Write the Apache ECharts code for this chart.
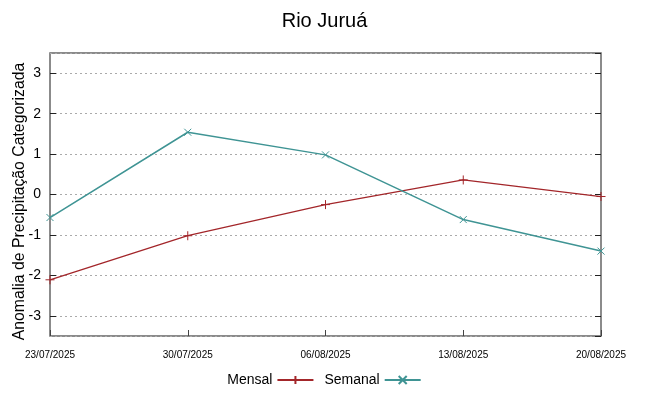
<!DOCTYPE html>
<html><head><meta charset="utf-8">
<script src="https://cdn.jsdelivr.net/npm/echarts@6/dist/echarts.min.js"></script>
<style>html,body{margin:0;padding:0;background:#fff}#c{width:649px;height:396px}</style>
</head><body><div id="c"></div>
<script>
const categories = ['23/07/2025','30/07/2025','06/08/2025','13/08/2025','20/08/2025'];
const mensal = [-2.11, -1.02, -0.25, 0.36, -0.05];
const semanal = [-0.57, 1.54, 0.98, -0.62, -1.40];
const yTicks = [-3, -2, -1, 0, 1, 2, 3];

const FONT = 'Liberation Sans';
const plus = 'path://M0,5L10,5M5,0L5,10';
const cross = 'path://M0,0L10,10M10,0L0,10';
const chart = echarts.init(document.getElementById('c'), null, {renderer: 'canvas'});
const yFmt = v => (yTicks.indexOf(Math.round(v*1000)/1000) >= 0 ? String(v) : '');
chart.setOption({
  animation: false,
  title: {text: 'Rio Juruá', left: 'center', top: 6,
    textStyle: {fontFamily: FONT, fontSize: 20, fontWeight: 'normal', color: '#000'}},
  grid: {left: 50, right: 48, top: 53, bottom: 60, show: true, borderColor: '#666', borderWidth: 1.5,
    backgroundColor: 'transparent', containLabel: false, outerBoundsMode: 'none'},
  legend: {bottom: 4, left: 'center', align: 'right', itemWidth: 36, itemHeight: 10, itemGap: 10,
    textStyle: {fontFamily: FONT, fontSize: 14, color: '#000'},
    data: ['Mensal', 'Semanal']},
  xAxis: {type: 'category', data: categories, boundaryGap: false,
    axisLine: {show: false, onZero: false},
    axisTick: {show: true, inside: true, length: 6, lineStyle: {color: '#444'}},
    axisLabel: {fontFamily: FONT, fontSize: 10, color: '#000', margin: 14},
    splitLine: {show: false}},
  yAxis: [{type: 'value', min: -3.5, max: 3.5, splitNumber: 7,
    name: 'Anomalia de Precipitação Categorizada', nameLocation: 'middle', nameGap: 22, nameMoveOverlap: false,
    nameTextStyle: {fontFamily: FONT, fontSize: 15.8, color: '#000', padding: [0, 14, 0, 0]},
    axisLine: {show: false},
    axisTick: {show: true, inside: true, length: 6, lineStyle: {color: '#222'}},
    axisLabel: {fontFamily: FONT, fontSize: 14, color: '#000', margin: 9, formatter: yFmt, showMinLabel: false, showMaxLabel: false},
    splitLine: {show: true, lineStyle: {color: '#aaa', type: [2, 3], width: 1}}},
   {type: 'value', min: -3.5, max: 3.5, splitNumber: 7, position: 'right',
    axisLine: {show: false},
    axisTick: {show: true, inside: true, length: 6, lineStyle: {color: '#222'}},
    axisLabel: {show: false}, splitLine: {show: false}}],
  series: [
    {name: 'Mensal', type: 'line', data: mensal, symbol: plus, symbolSize: 9,
      lineStyle: {color: '#a3262a', width: 1.3},
      itemStyle: {color: '#a3262a', borderColor: '#a3262a', borderWidth: 1}},
    {name: 'Semanal', type: 'line', data: semanal, symbol: cross, symbolSize: 7,
      lineStyle: {color: '#3f9494', width: 1.5},
      itemStyle: {color: '#3f9494', borderColor: '#3f9494', borderWidth: 1}}
  ]
});
</script></body></html>
